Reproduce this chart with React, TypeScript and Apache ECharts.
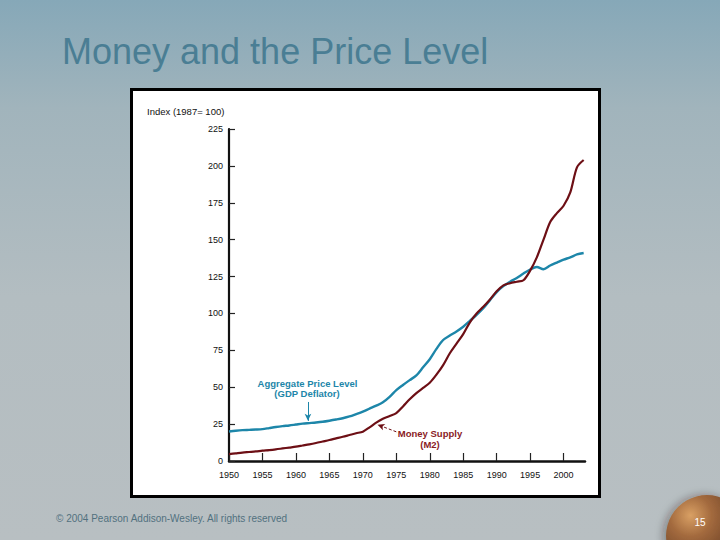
import React, { useEffect, useRef } from "react";
import * as echarts from "echarts";

const years = [
  1950, 1951, 1952, 1953, 1954, 1955, 1956, 1957, 1958, 1959,
  1960, 1961, 1962, 1963, 1964, 1965, 1966, 1967, 1968, 1969,
  1970, 1971, 1972, 1973, 1974, 1975, 1976, 1977, 1978, 1979,
  1980, 1981, 1982, 1983, 1984, 1985, 1986, 1987, 1988, 1989,
  1990, 1991, 1992, 1993, 1994, 1995, 1996, 1997, 1998, 1999,
  2000, 2001, 2002, 2003,
];

// Aggregate price level (GDP deflator), 1987 = 100
const priceLevel = [
  20.0, 20.5, 20.9, 21.1, 21.3, 21.6, 22.3, 23.0, 23.6, 24.1,
  24.7, 25.3, 25.7, 26.1, 26.6, 27.3, 28.1, 29.0, 30.2, 31.8,
  33.5, 35.5, 37.5, 39.8, 43.5, 48.0, 51.5, 54.8, 58.0, 63.5,
  69.0, 76.0, 82.0, 85.0, 87.8, 91.0, 95.0, 99.0, 103.5, 109.0,
  114.5, 118.5, 121.5, 124.0, 127.0, 129.8, 131.5, 130.0, 132.5, 134.5,
  136.5, 138.0, 140.0, 141.0,
];

// Money supply (M2), 1987 = 100
const moneySupply = [
  4.7, 5.2, 5.7, 6.1, 6.5, 7.0, 7.4, 7.9, 8.5, 9.1,
  9.7, 10.5, 11.3, 12.2, 13.2, 14.2, 15.3, 16.4, 17.6, 18.8,
  19.9, 22.8, 26.0, 28.6, 30.5, 32.5, 37.0, 41.8, 46.0, 49.5,
  53.0, 58.5, 65.0, 73.0, 79.5, 86.0, 94.0, 100.0, 104.5, 109.5,
  115.0, 119.0, 120.5, 121.5, 122.5, 129.0, 138.0, 150.0, 162.0, 168.0,
  173.0, 182.0, 199.0, 204.0,
];

const xTickYears = [1950, 1955, 1960, 1965, 1970, 1975, 1980, 1985, 1990, 1995, 2000];

const FONT = "'Liberation Sans', Arial, Helvetica, sans-serif";
const BLUE = "#1d86a9";
const RED = "#6d0f15";

export default function App() {
  const ref = useRef<HTMLDivElement>(null);

  useEffect(() => {
    if (!ref.current) return;
    const chart = echarts.init(ref.current, null, { renderer: "svg" });
    chart.setOption({
      animation: false,
      backgroundColor: {
        type: "linear",
        x: 0,
        y: 0,
        x2: 0,
        y2: 1,
        colorStops: [
          { offset: 0, color: "#86a8b8" },
          { offset: 0.2, color: "#a1b4bc" },
          { offset: 0.55, color: "#b3bdc1" },
          { offset: 1, color: "#b8bfc2" },
        ],
      },
      grid: { left: 229, top: 129, right: 135, bottom: 79, containLabel: false },
      xAxis: {
        type: "value",
        min: 1950,
        max: 2003.2,
        interval: 5,
        splitLine: { show: false },
        axisLine: { show: true, onZero: false, lineStyle: { color: "#111", width: 2.5 } },
        axisTick: {
          show: true,
          inside: true,
          length: 8,
          customValues: xTickYears,
          lineStyle: { color: "#222", width: 1.2 },
        },
        axisLabel: {
          customValues: xTickYears,
          color: "#111",
          fontSize: 9,
          fontFamily: FONT,
          margin: 9,
          formatter: (v: number) => String(v),
        },
      },
      yAxis: {
        type: "value",
        min: 0,
        max: 225,
        interval: 25,
        splitLine: { show: false },
        axisLine: { show: true, lineStyle: { color: "#111", width: 2.2 } },
        axisTick: { show: true, inside: true, length: 6, lineStyle: { color: "#222", width: 1.2 } },
        axisLabel: { color: "#111", fontSize: 9, fontFamily: FONT, margin: 6 },
      },
      series: [
        {
          name: "Aggregate Price Level (GDP Deflator)",
          type: "line",
          data: years.map((y, i) => [y, priceLevel[i]]),
          showSymbol: false,
          smooth: 0.3,
          lineStyle: { color: BLUE, width: 2.4 },
          z: 3,
          markLine: {
            silent: true,
            symbol: ["none", "arrow"],
            symbolSize: [5, 7],
            label: { show: false },
            lineStyle: { color: BLUE, width: 1, type: "solid" },
            data: [[{ coord: [1961.8, 40] }, { coord: [1961.8, 27.2] }]],
          },
        },
        {
          name: "Money Supply (M2)",
          type: "line",
          data: years.map((y, i) => [y, moneySupply[i]]),
          showSymbol: false,
          smooth: 0.3,
          lineStyle: { color: RED, width: 2.2 },
          z: 4,
          markLine: {
            silent: true,
            symbol: ["none", "arrow"],
            symbolSize: [5, 7],
            label: { show: false },
            lineStyle: { color: RED, width: 1, type: [3, 2] },
            data: [[{ coord: [1975.0, 19.8] }, { coord: [1972.2, 24.6] }]],
          },
        },
      ],
      graphic: [
        {
          type: "rect",
          z: -10,
          silent: true,
          shape: { x: 131.5, y: 89.5, width: 468, height: 407 },
          style: { fill: "#ffffff", stroke: "#000000", lineWidth: 3 },
        },
        {
          type: "text",
          z: 10,
          x: 62,
          y: 51,
          style: {
            text: "Money and the Price Level",
            fill: "#4a7e94",
            font: `36px ${FONT}`,
            textAlign: "left",
            textVerticalAlign: "middle",
          },
        },
        {
          type: "text",
          z: 10,
          x: 147,
          y: 111,
          style: {
            text: "Index (1987= 100)",
            fill: "#111",
            font: `9.5px ${FONT}`,
            textAlign: "left",
            textVerticalAlign: "middle",
          },
        },
        {
          type: "text",
          z: 10,
          x: 307.5,
          y: 383.2,
          style: {
            text: "Aggregate Price Level",
            fill: BLUE,
            font: `bold 9.5px ${FONT}`,
            textAlign: "center",
            textVerticalAlign: "middle",
          },
        },
        {
          type: "text",
          z: 10,
          x: 307,
          y: 393.8,
          style: {
            text: "(GDP Deflator)",
            fill: BLUE,
            font: `bold 9.5px ${FONT}`,
            textAlign: "center",
            textVerticalAlign: "middle",
          },
        },
        {
          type: "text",
          z: 10,
          x: 430,
          y: 433.4,
          style: {
            text: "Money Supply",
            fill: "#8a1b1f",
            font: `bold 9.5px ${FONT}`,
            textAlign: "center",
            textVerticalAlign: "middle",
          },
        },
        {
          type: "text",
          z: 10,
          x: 430,
          y: 444.7,
          style: {
            text: "(M2)",
            fill: "#8a1b1f",
            font: `bold 9.5px ${FONT}`,
            textAlign: "center",
            textVerticalAlign: "middle",
          },
        },
        {
          type: "text",
          z: 10,
          x: 56,
          y: 518.5,
          style: {
            text: "© 2004 Pearson Addison-Wesley. All rights reserved",
            fill: "#52717f",
            font: `10px ${FONT}`,
            textAlign: "left",
            textVerticalAlign: "middle",
          },
        },
        {
          type: "circle",
          z: 5,
          silent: true,
          shape: { cx: 707, cy: 536, r: 41 },
          style: {
            fill: {
              type: "radial",
              x: 0.3,
              y: 0.25,
              r: 0.85,
              colorStops: [
                { offset: 0, color: "#d9a064" },
                { offset: 0.3, color: "#a36a3e" },
                { offset: 0.7, color: "#6f4327" },
                { offset: 1, color: "#45281a" },
              ],
            },
            shadowBlur: 8,
            shadowColor: "rgba(40,30,20,0.35)",
            shadowOffsetX: -3,
          },
        },
        {
          type: "text",
          z: 10,
          x: 700,
          y: 522,
          style: {
            text: "15",
            fill: "#ffffff",
            font: `10px ${FONT}`,
            textAlign: "center",
            textVerticalAlign: "middle",
          },
        },
      ],
    });
    return () => chart.dispose();
  }, []);

  return (
    <div
      ref={ref}
      style={{ position: "fixed", left: 0, top: 0, width: 720, height: 540 }}
    />
  );
}
